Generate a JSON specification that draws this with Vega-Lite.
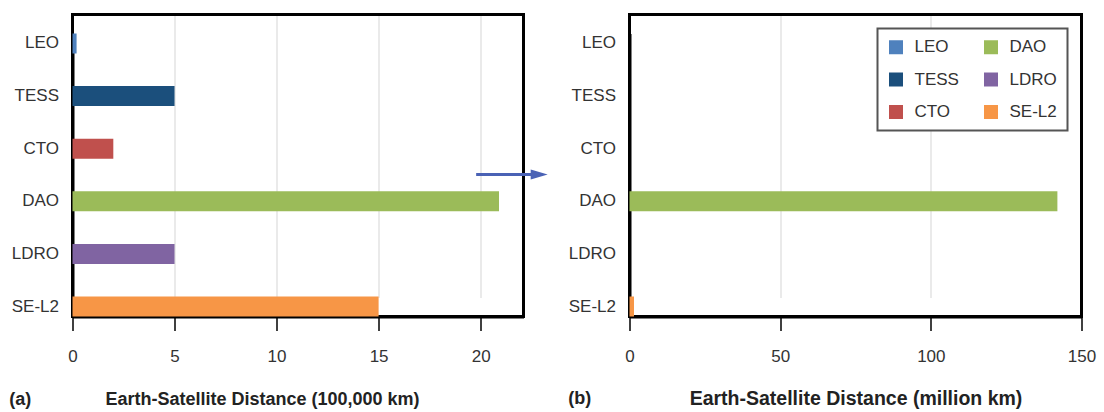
{
  "$schema": "https://vega.github.io/schema/vega-lite/v6.json",
  "background": "white",
  "padding": {"left": 7.5, "top": 12.5, "right": 5, "bottom": 5},
  "bounds": "flush",
  "spacing": 106,
  "resolve": {"scale": {"x": "independent", "y": "independent", "color": "independent"}, "legend": {"color": "independent"}},
  "config": {
    "font": "Liberation Sans, Arial, sans-serif",
    "view": {"stroke": "#000", "strokeWidth": 3},
    "axisX": {
      "domain": true, "domainColor": "#000", "domainWidth": 3,
      "ticks": true, "tickColor": "#000", "tickWidth": 1.5, "tickSize": 14,
      "grid": true, "gridColor": "#000", "gridOpacity": 0.17, "gridWidth": 1,
      "labelFontSize": 17, "labelColor": "#333", "labelPadding": 18, "labelFlush": false,
      "titleFontSize": 18, "titleFontWeight": "bold", "titleColor": "#222",
      "titleBaseline": "alphabetic", "titleY": 88, "zindex": 1
    },
    "axisY": {
      "domain": true, "domainColor": "#000", "domainWidth": 3,
      "ticks": false, "grid": false, "labelFontSize": 17, "labelColor": "#333",
      "labelPadding": 14, "title": null, "zindex": 1
    },
    "title": {"fontSize": 18, "fontWeight": "bold", "color": "#222", "baseline": "alphabetic"},
    "legend": {
      "orient": "top-right", "offset": 14, "columns": 2, "symbolType": "square",
      "symbolSize": 196, "symbolStrokeWidth": 0, "labelFontSize": 17, "labelColor": "#333",
      "strokeColor": "#555", "strokeWidth": 2, "padding": 10, "rowPadding": 14.5,
      "columnPadding": 23, "labelOffset": 10, "fillColor": "white"
    }
  },
  "hconcat": [
    {
      "width": 451,
      "height": 302,
      "title": {"text": "(a)", "orient": "bottom", "anchor": "start", "frame": "bounds", "offset": -18, "dx": -2},
      "layer": [
        {
          "data": {"values": [
            {"orbit": "LEO", "distance": 0.2},
            {"orbit": "TESS", "distance": 5},
            {"orbit": "CTO", "distance": 2},
            {"orbit": "DAO", "distance": 20.9},
            {"orbit": "LDRO", "distance": 5},
            {"orbit": "SE-L2", "distance": 15}
          ]},
          "mark": {"type": "bar"},
          "encoding": {
            "y": {"field": "orbit", "type": "nominal",
              "scale": {"domain": ["LEO", "TESS", "CTO", "DAO", "LDRO", "SE-L2"], "range": [19, 302], "paddingInner": 0.62, "paddingOuter": 0}},
            "x": {"field": "distance", "type": "quantitative",
              "scale": {"domain": [0, 22.1], "nice": false},
              "axis": {"values": [0, 5, 10, 15, 20], "title": "Earth-Satellite Distance (100,000 km)", "titleX": 189.5, "titleAlign": "center"}},
            "color": {"field": "orbit", "type": "nominal",
              "scale": {"domain": ["LEO", "TESS", "CTO", "DAO", "LDRO", "SE-L2"], "range": ["#4f81bd", "#1b4f7c", "#c0504d", "#9bbb59", "#8064a2", "#f79646"]},
              "legend": null}
          }
        },
        {
          "data": {"values": [{"pos": "CTO", "start": 19.78, "end": 22.6, "head": 22.87}]},
          "mark": {"type": "rule", "color": "#4a62b5", "strokeWidth": 3},
          "encoding": {
            "x": {"field": "start", "type": "quantitative"},
            "x2": {"field": "end"},
            "y": {"field": "pos", "type": "nominal", "bandPosition": 1.79}
          }
        },
        {
          "data": {"values": [{"pos": "CTO", "start": 19.78, "end": 22.6, "head": 22.87}]},
          "mark": {"type": "point", "shape": "M-1,-0.6L1,0L-1,0.6Z", "filled": true, "size": 289, "color": "#4a62b5", "opacity": 1},
          "encoding": {
            "x": {"field": "head", "type": "quantitative"},
            "y": {"field": "pos", "type": "nominal", "bandPosition": 1.79}
          }
        }
      ]
    },
    {
      "width": 452,
      "height": 302,
      "title": {"text": "(b)", "orient": "bottom", "anchor": "start", "frame": "bounds", "offset": -18, "dx": 0},
      "data": {"values": [
        {"orbit": "DAO", "distance": 142},
        {"orbit": "SE-L2", "distance": 1.5}
      ]},
      "mark": {"type": "bar"},
      "encoding": {
        "y": {"field": "orbit", "type": "nominal",
          "scale": {"domain": ["LEO", "TESS", "CTO", "DAO", "LDRO", "SE-L2"], "range": [19, 302], "paddingInner": 0.62, "paddingOuter": 0}},
        "x": {"field": "distance", "type": "quantitative",
          "scale": {"domain": [0, 150], "nice": false},
          "axis": {"values": [0, 50, 100, 150], "title": "Earth-Satellite Distance (million km)", "titleFontSize": 19.5}},
        "color": {"field": "orbit", "type": "nominal",
          "scale": {"domain": ["LEO", "TESS", "CTO", "DAO", "LDRO", "SE-L2"], "range": ["#4f81bd", "#1b4f7c", "#c0504d", "#9bbb59", "#8064a2", "#f79646"]},
          "legend": {"title": null}}
      }
    }
  ]
}
